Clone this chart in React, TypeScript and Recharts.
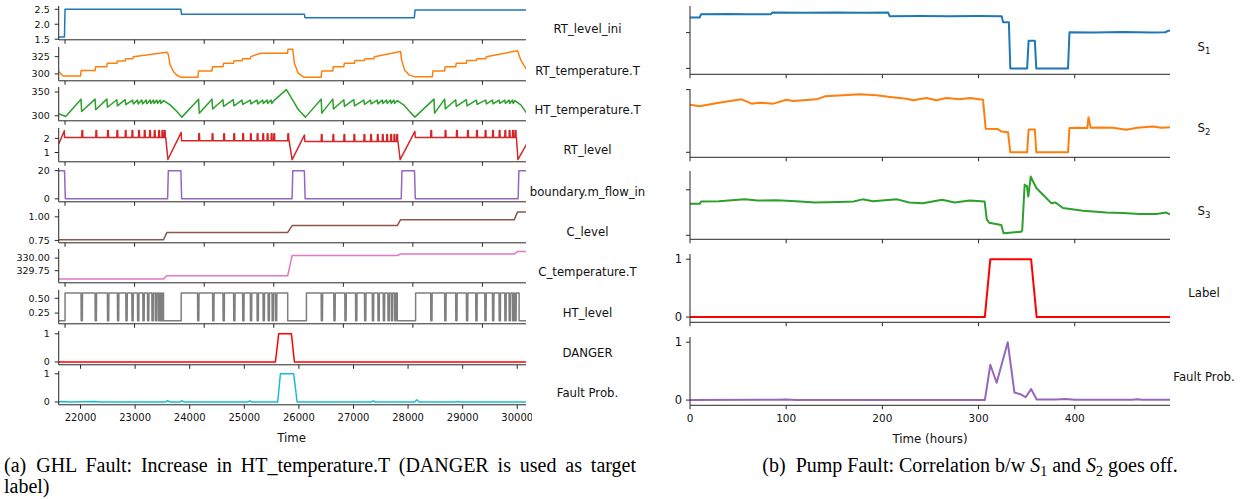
import React from 'react';
import { LineChart, Line, XAxis, YAxis } from 'recharts';

type Pt = [number, number];

// ================= Left figure: GHL =================
const GHL_TIME_DOMAIN: [number, number] = [21600, 30160];
const GHL_TIME_TICKS = [22000, 23000, 24000, 25000, 26000, 27000, 28000, 29000, 30000];
const GHL_UPPER_TICKS = [21716, 22990, 24265, 25540, 26814, 28088, 29362];

const RT_LEVEL_INI: Pt[] = [
  [21600, 1.57], [21705, 1.57], [21716, 2.5], [23838, 2.5], [23850, 2.33], [26100, 2.33], [26112, 2.22],
  [28115, 2.22], [28128, 2.48], [30160, 2.48],
];

const RT_TEMPERATURE: Pt[] = [
  [21600, 303.5], [21680, 297], [22000, 297], [22010, 304.8], [22265, 304.8], [22275, 310.5], [22480, 310.5],
  [22490, 315.5], [22665, 315.5], [22675, 318.8], [22815, 318.8], [22825, 322], [22958, 322], [22968, 325],
  [23580, 331.3], [23605, 329], [23640, 313], [23700, 303.5], [23765, 298], [23830, 295.2], [24150, 295.2],
  [24160, 304.3], [24408, 304.3], [24418, 310.5], [24610, 310.5], [24620, 315.5], [24800, 315.5], [24810, 319],
  [24958, 319], [24968, 322], [25110, 322], [25120, 325], [25294, 329.9], [25790, 329.9], [25800, 335.7],
  [25887, 335.7], [25918, 315.5], [25986, 301], [26088, 295.2], [26408, 295.2], [26418, 304.3], [26621, 304.3],
  [26631, 310.5], [26823, 310.5], [26833, 315.5], [27019, 315.5], [27029, 319.5], [27202, 319.5], [27212, 322],
  [27373, 322], [27383, 325], [27863, 332.6], [27881, 320], [27936, 305.8], [28015, 298.6], [28107, 296],
  [28445, 296], [28455, 304.3], [28670, 304.3], [28680, 310.5], [28872, 310.5], [28882, 315.5], [29068, 315.5],
  [29078, 319.5], [29252, 319.5], [29262, 322], [29423, 322], [29433, 325], [30004, 333.5], [30065, 320],
  [30175, 305.8],
];

const HT_TEMPERATURE: Pt[] = [
  [21600, 304.2], [21728, 298.6], [22009, 335], [22020, 309], [22266, 335], [22278, 312.7], [22481, 335],
  [22493, 318], [22664, 333.8], [22676, 321], [22817, 333.8], [22829, 323.5], [22954, 333], [22966, 325],
  [23043, 333], [23055, 325], [23123, 333], [23135, 325], [23202, 333], [23214, 325.5], [23275, 333],
  [23287, 326], [23336, 333], [23348, 326], [23398, 333], [23410, 326], [23459, 333], [23471, 326],
  [23520, 332], [23642, 323], [23765, 309], [23857, 297.2],
  [24162, 335], [24174, 305.6], [24408, 335], [24420, 314.4], [24609, 333.8], [24621, 319.6], [24798, 333.8],
  [24810, 321], [24958, 333], [24970, 324], [25110, 333], [25122, 325], [25233, 333], [25245, 325],
  [25336, 333], [25348, 326], [25417, 333], [25429, 326], [25490, 333], [25502, 326], [25551, 333],
  [25771, 354.9], [25881, 333.8], [25991, 312.7], [26120, 297.2],
  [26408, 335], [26420, 305.6], [26621, 335], [26633, 314.4], [26823, 333.8], [26835, 319.6], [27006, 333.8],
  [27018, 321], [27190, 333], [27202, 324], [27312, 333], [27324, 325], [27435, 333], [27447, 325],
  [27527, 333], [27539, 326], [27606, 333], [27618, 326], [27679, 333], [27691, 326], [27740, 333],
  [27752, 326], [27802, 332], [27918, 323], [28028, 309], [28125, 297.2],
  [28474, 335], [28486, 305.6], [28670, 335], [28682, 314.4], [28872, 333.8], [28884, 319.6], [29068, 333.8],
  [29080, 321], [29252, 333], [29264, 324], [29423, 333], [29435, 325], [29546, 333], [29558, 325],
  [29667, 333], [29679, 326], [29771, 333], [29783, 326], [29850, 333], [29862, 326], [29913, 333],
  [29925, 326], [29955, 332], [30065, 323], [30175, 305],
];

const RT_LEVEL_ANCHORS: Pt[] = [
  [21600, 1.6], [21703, 2.55], [21708, 2.07], [23560, 2.07], [23600, 0.5], [23844, 2.43], [23850, 1.84],
  [25820, 1.84], [25876, 0.5], [26101, 2.24], [26110, 1.78], [27815, 1.78], [27855, 0.5], [28125, 2.5],
  [28132, 2.07], [29985, 2.07], [30012, 0.5], [30175, 1.62],
];
const RT_LEVEL_SPIKES = [
  22022, 22279, 22492, 22664, 22817, 22940, 23061, 23166, 23263, 23349, 23428, 23490, 23533,
  24162, 24408, 24620, 24804, 24969, 25110, 25233, 25336, 25417, 25490, 25538, 25795,
  26408, 26621, 26823, 27006, 27190, 27312, 27435, 27527, 27606, 27679, 27740, 27790,
  28414, 28676, 28885, 29087, 29252, 29410, 29546, 29667, 29771, 29850, 29913, 29960,
];
const RT_LEVEL_SPIKE_RISE = 0.5;

const BOUNDARY_FLOW: Pt[] = [
  [21600, 20], [21706, 20], [21722, 0], [23595, 0], [23608, 20], [23838, 20], [23852, 0], [25875, 0],
  [25888, 20], [26100, 20], [26114, 0], [27875, 0], [27888, 20], [28118, 20], [28132, 0], [30016, 0],
  [30030, 20], [30160, 20],
];

const C_LEVEL: Pt[] = [
  [21600, 0.757], [23520, 0.757], [23582, 0.835], [25795, 0.835], [25876, 0.907], [27802, 0.907],
  [27863, 0.97], [29945, 0.97], [30004, 1.05], [30160, 1.05],
];

const C_TEMPERATURE: Pt[] = [
  [21600, 329.587], [23520, 329.587], [23582, 329.65], [25795, 329.65], [25876, 330.05], [27802, 330.05],
  [27863, 330.08], [29945, 330.08], [30004, 330.13], [30160, 330.13],
];

const HT_LEVEL_ANCHORS: Pt[] = [
  [21600, 0.12], [21716, 0.12], [21716, 0.59], [23520, 0.59], [23520, 0.12], [23844, 0.12], [23844, 0.59],
  [25795, 0.59], [25795, 0.12], [26138, 0.12], [26138, 0.59], [27802, 0.59], [27802, 0.12], [28138, 0.12],
  [28138, 0.59], [30034, 0.59], [30034, 0.12], [30160, 0.12],
];
const HT_LEVEL_PULSES = [
  22009, 22266, 22492, 22675, 22829, 22940, 23043, 23141, 23226, 23306, 23367, 23422, 23460, 23488,
  24143, 24419, 24609, 24804, 24969, 25110, 25233, 25343, 25435, 25508, 25569,
  26408, 26639, 26841, 27037, 27202, 27344, 27447, 27545, 27630, 27692, 27753,
  28414, 28670, 28872, 29068, 29239, 29405, 29546, 29667, 29771, 29850, 29913, 29955,
];
const HT_LEVEL_LOW = 0.12;

const DANGER: Pt[] = [[21600, 0], [25570, 0], [25630, 1], [25863, 1], [25918, 0], [30160, 0]];

const GHL_FAULT_PROB: Pt[] = [
  [21600, 0.01], [21700, 0.02], [21800, 0], [22250, 0.015], [22350, 0], [23560, 0], [23593, 0.05],
  [23630, 0], [23830, 0], [23857, 0.05], [23890, 0], [25070, 0], [25098, 0.04], [25130, 0], [25612, 0],
  [25661, 1], [25905, 1], [25967, 0], [27330, 0], [27362, 0.04], [27395, 0], [28120, 0], [28157, 0.08],
  [28200, 0], [28880, 0], [28915, 0.02], [28950, 0], [30160, 0],
];

// ================= Right figure: Pump =================
const PUMP_TIME_DOMAIN: [number, number] = [0, 499];
const PUMP_TIME_TICKS = [0, 100, 200, 300, 400];

const S1: Pt[] = [
  [0, 1.42], [10, 1.42], [11.5, 1.515], [40, 1.52], [60, 1.51], [84, 1.515], [85.5, 1.56], [120, 1.555],
  [150, 1.565], [180, 1.555], [206, 1.56], [207.5, 1.46], [240, 1.465], [270, 1.455], [300, 1.465],
  [324, 1.46], [325.5, 1.29], [331.5, 1.29], [333, 0], [350.5, 0], [352, 0.77], [358.5, 0.77], [360, 0],
  [393, 0], [394.5, 1.01], [420, 1.005], [450, 1.015], [480, 1.005], [494, 1.01], [497, 1.05], [499, 1.05],
];

const S2: Pt[] = [
  [0, 0.76], [10, 0.733], [30, 0.79], [53.6, 0.845], [64, 0.776], [72.7, 0.792], [86.5, 0.776],
  [100.4, 0.839], [107.3, 0.818], [131.5, 0.845], [140.2, 0.893], [159.2, 0.909], [176.5, 0.925],
  [193.9, 0.909], [210, 0.88], [225, 0.855], [232, 0.829], [245.8, 0.866], [256.2, 0.829], [266.6, 0.866],
  [280.4, 0.845], [291, 0.866], [304.6, 0.839], [307.4, 0.375], [320, 0.37], [324, 0.33], [330.6, 0.321],
  [333, 0], [350.5, 0], [352, 0.364], [358.5, 0.364], [360, 0], [393, 0], [394.5, 0.386], [405, 0.39],
  [413, 0.386], [414.3, 0.56], [416.5, 0.39], [425, 0.395], [439.6, 0.39], [453.5, 0.36], [465, 0.39],
  [481, 0.41], [490, 0.39], [499, 0.4],
];

const S3: Pt[] = [
  [0, 0.691], [10, 0.691], [11.5, 0.742], [30, 0.75], [57, 0.79], [70, 0.764], [90, 0.77], [110, 0.75],
  [130, 0.72], [155, 0.73], [170, 0.742], [179.3, 0.79], [190, 0.75], [215.3, 0.79], [228, 0.72],
  [242, 0.706], [252, 0.742], [262.3, 0.78], [275, 0.72], [290.8, 0.764], [306.3, 0.742], [308.5, 0.35],
  [311, 0.278], [323.6, 0.226], [326, 0.044], [335, 0.06], [344.4, 0.08], [345.4, 0.118], [347.9, 1.11],
  [350.3, 1.08], [351.7, 0.85], [354.2, 1.29], [360, 1.04], [367, 0.89], [375.6, 0.706], [380, 0.72],
  [387.7, 0.6], [408.5, 0.54], [432.7, 0.5], [450, 0.49], [467.3, 0.47], [485, 0.47], [495, 0.5], [499, 0.46],
];

const PUMP_LABEL: Pt[] = [[0, 0], [306.5, 0], [312.2, 1], [354.6, 1], [360.4, 0], [499, 0]];

const PUMP_FAULT_PROB: Pt[] = [
  [0, 0], [90, 0.005], [100, 0.01], [110, 0], [306.5, 0], [312.2, 0.61], [318.8, 0.3], [330.3, 1.0],
  [337.3, 0.13], [343.7, 0.1], [348.9, 0.05], [354.6, 0.19], [360.4, 0.01], [380, 0.01], [390, 0.02],
  [400, 0.005], [460, 0.005], [465, 0.015], [470, 0.005], [499, 0.005],
];

// ================= helpers =================
const valueAt = (anchors: Pt[], t: number) => {
  let v = anchors[0][1];
  for (const [at, av] of anchors) if (at <= t) v = av;
  return v;
};

function mergeEvents(anchors: Pt[], extra: { k: number; pts: Pt[] }[]): Pt[] {
  const events = anchors.map((p) => ({ k: p[0], pts: [p] as Pt[] })).concat(extra);
  events.sort((a, b) => a.k - b.k);
  return events.flatMap((e) => e.pts);
}

const RT_LEVEL: Pt[] = mergeEvents(
  RT_LEVEL_ANCHORS,
  RT_LEVEL_SPIKES.map((s) => {
    const b = valueAt(RT_LEVEL_ANCHORS, s);
    return { k: s, pts: [[s, b], [s + 4, b + RT_LEVEL_SPIKE_RISE], [s + 16, b + RT_LEVEL_SPIKE_RISE], [s + 20, b]] as Pt[] };
  })
);

const HT_LEVEL: Pt[] = mergeEvents(
  HT_LEVEL_ANCHORS,
  HT_LEVEL_PULSES.map((s) => {
    const b = valueAt(HT_LEVEL_ANCHORS, s);
    return { k: s, pts: [[s, b], [s + 3, HT_LEVEL_LOW], [s + 24, HT_LEVEL_LOW], [s + 27, b]] as Pt[] };
  })
);

const rows = (pts: Pt[]) => pts.map(([t, v]) => ({ t, v }));

const FRAME = '#262626';
const PAD = 6;

type PanelProps = {
  chartLeft: number;
  plotLeft: number;
  plotRight: number;
  top: number;
  height: number;
  data: Pt[];
  color: string;
  strokeWidth: number;
  xDomain: [number, number];
  xTicks: number[];
  xLabels?: boolean;
  yDomain: [number, number];
  yTicks: number[];
  yFmt?: (v: number) => string;
  yFontSize: number;
  xFontSize: number;
  yTickMargin: number;
};

function Panel(p: PanelProps) {
  const bottom = p.xLabels ? 24 : PAD;
  const width = p.plotRight - p.chartLeft + PAD;
  return (
    <div style={{ position: 'absolute', left: p.chartLeft, top: p.top - PAD }}>
      <LineChart
        width={width}
        height={p.height + PAD + bottom}
        data={rows(p.data)}
        margin={{ top: PAD, right: PAD, bottom: 0, left: 0 }}
      >
        <XAxis
          dataKey="t"
          type="number"
          domain={p.xDomain}
          allowDataOverflow
          ticks={p.xTicks}
          interval={0}
          height={bottom}
          tickSize={4}
          tickMargin={5}
          tick={{ fontSize: p.xFontSize, fill: '#111', fontFamily: 'DejaVu Sans' }}
          tickLine={{ stroke: FRAME }}
          axisLine={{ stroke: FRAME }}
          tickFormatter={p.xLabels ? (v: number) => String(v) : () => ''}
        />
        <XAxis
          xAxisId="top"
          orientation="top"
          dataKey="t"
          type="number"
          domain={p.xDomain}
          allowDataOverflow
          height={0}
          tick={false}
          tickLine={false}
          axisLine={{ stroke: FRAME }}
        />
        <YAxis
          type="number"
          domain={p.yDomain}
          allowDataOverflow
          ticks={p.yTicks}
          interval={0}
          width={p.plotLeft - p.chartLeft}
          tickSize={4}
          tickMargin={p.yTickMargin}
          tick={{ fontSize: p.yFontSize, fill: '#111', fontFamily: 'DejaVu Sans' }}
          tickLine={{ stroke: FRAME }}
          axisLine={{ stroke: FRAME }}
          tickFormatter={p.yFmt ? p.yFmt : () => ''}
        />
        <YAxis
          yAxisId="right"
          orientation="right"
          type="number"
          domain={p.yDomain}
          allowDataOverflow
          width={0}
          tick={false}
          tickLine={false}
          axisLine={{ stroke: FRAME }}
        />
        <Line
          dataKey="v"
          type="linear"
          stroke={p.color}
          strokeWidth={p.strokeWidth}
          dot={false}
          strokeLinejoin="round"
          isAnimationActive={false}
        />
      </LineChart>
    </div>
  );
}

const f0 = (v: number) => v.toFixed(0);
const f1 = (v: number) => v.toFixed(1);
const f2 = (v: number) => v.toFixed(2);

type Spec = {
  name: string;
  data: Pt[];
  color: string;
  yDomain: [number, number];
  yTicks: number[];
  yFmt?: (v: number) => string;
};

const GHL_SPECS: Spec[] = [
  { name: 'RT_level_ini', data: RT_LEVEL_INI, color: '#1f77b4', yDomain: [1.48, 2.61], yTicks: [1.5, 2.0, 2.5], yFmt: f1 },
  { name: 'RT_temperature.T', data: RT_TEMPERATURE, color: '#ff7f0e', yDomain: [290, 339], yTicks: [300, 325], yFmt: f0 },
  { name: 'HT_temperature.T', data: HT_TEMPERATURE, color: '#2ca02c', yDomain: [289.5, 360.5], yTicks: [300, 350], yFmt: f0 },
  { name: 'RT_level', data: RT_LEVEL, color: '#d62728', yDomain: [0.34, 2.74], yTicks: [1, 2], yFmt: f0 },
  { name: 'boundary.m_flow_in', data: BOUNDARY_FLOW, color: '#9467bd', yDomain: [-2.1, 21.9], yTicks: [0, 20], yFmt: f0 },
  { name: 'C_level', data: C_LEVEL, color: '#8c564b', yDomain: [0.725, 1.083], yTicks: [0.75, 1.0], yFmt: f2 },
  { name: 'C_temperature.T', data: C_TEMPERATURE, color: '#e377c2', yDomain: [329.51, 330.18], yTicks: [329.75, 330.0], yFmt: f2 },
  { name: 'HT_level', data: HT_LEVEL, color: '#7f7f7f', yDomain: [0.07, 0.64], yTicks: [0.25, 0.5], yFmt: f2 },
  { name: 'DANGER', data: DANGER, color: '#ff0000', yDomain: [-0.1, 1.1], yTicks: [0, 1], yFmt: f0 },
  { name: 'Fault Prob.', data: GHL_FAULT_PROB, color: '#17becf', yDomain: [-0.1, 1.1], yTicks: [0, 1], yFmt: f0 },
];
const GHL_TOPS = [6, 46.7, 87.3, 127.6, 168.3, 209, 249.4, 290, 331, 371];
const GHL_LABEL_Y = [29.3, 70.7, 110, 150, 192.3, 231.7, 271.7, 312.7, 353.3, 393.3];

const PUMP_SPECS: Spec[] = [
  { name: 'S1', data: S1, color: '#1f77b4', yDomain: [-0.165, 1.744], yTicks: [0, 1] },
  { name: 'S2', data: S2, color: '#ff7f0e', yDomain: [-0.08, 1.01], yTicks: [0, 1] },
  { name: 'S3', data: S3, color: '#2ca02c', yDomain: [-0.088, 1.413], yTicks: [0, 1] },
  { name: 'Label', data: PUMP_LABEL, color: '#ff0000', yDomain: [-0.09, 1.09], yTicks: [0, 1], yFmt: f0 },
  { name: 'Fault Prob.', data: PUMP_FAULT_PROB, color: '#9467bd', yDomain: [-0.09, 1.09], yTicks: [0, 1], yFmt: f0 },
];
const PUMP_TOPS = [5.7, 88.5, 171.2, 254, 336.7];
const PUMP_LABEL_Y = [46.7, 128.3, 211, 293, 376.7];

const LABEL_FONT: React.CSSProperties = {
  position: 'absolute',
  fontFamily: 'DejaVu Sans',
  fontSize: 11.7,
  color: '#111',
  textAlign: 'center',
  whiteSpace: 'nowrap',
  width: 200,
  lineHeight: '14px',
};

function PumpName({ name }: { name: string }) {
  if (/^S\d$/.test(name)) {
    return (
      <span>
        S<span style={{ fontSize: 8.5, position: 'relative', top: 3 }}>{name[1]}</span>
      </span>
    );
  }
  return <span>{name}</span>;
}

export default function App() {
  return (
    <div
      style={{
        position: 'absolute',
        left: 0,
        top: 0,
        width: 1240,
        height: 499,
        background: '#fff',
        overflow: 'hidden',
      }}
    >
      {GHL_SPECS.map((s, i) => (
        <Panel
          key={'g' + i}
          chartLeft={0}
          plotLeft={58.7}
          plotRight={526}
          top={GHL_TOPS[i]}
          height={33.8}
          data={s.data}
          color={s.color}
          strokeWidth={1.5}
          xDomain={GHL_TIME_DOMAIN}
          xTicks={i >= 8 ? GHL_TIME_TICKS : GHL_UPPER_TICKS}
          xLabels={i === 9}
          yDomain={s.yDomain}
          yTicks={s.yTicks}
          yFmt={s.yFmt}
          yFontSize={9.5}
          xFontSize={10}
          yTickMargin={5}
        />
      ))}
      {GHL_SPECS.map((s, i) => (
        <div key={'gl' + i} style={{ ...LABEL_FONT, left: 487.5, top: GHL_LABEL_Y[i] - 7 }}>
          {s.name}
        </div>
      ))}
      <div style={{ ...LABEL_FONT, left: 191.7, top: 438.3 - 7, fontSize: 11.8 }}>Time</div>

      {PUMP_SPECS.map((s, i) => (
        <Panel
          key={'p' + i}
          chartLeft={640}
          plotLeft={690}
          plotRight={1170}
          top={PUMP_TOPS[i]}
          height={68.3}
          data={s.data}
          color={s.color}
          strokeWidth={2}
          xDomain={PUMP_TIME_DOMAIN}
          xTicks={PUMP_TIME_TICKS}
          xLabels={i === 4}
          yDomain={s.yDomain}
          yTicks={s.yTicks}
          yFmt={s.yFmt}
          yFontSize={11.5}
          xFontSize={10.5}
          yTickMargin={4}
        />
      ))}
      {PUMP_SPECS.map((s, i) => (
        <div key={'pl' + i} style={{ ...LABEL_FONT, left: 1104, top: PUMP_LABEL_Y[i] - 7 }}>
          <PumpName name={s.name} />
        </div>
      ))}
      <div style={{ ...LABEL_FONT, left: 830, top: 439 - 7, fontSize: 11.8 }}>Time (hours)</div>

      <div
        style={{
          position: 'absolute',
          left: 4,
          top: 455,
          width: 632,
          fontFamily: '"Liberation Serif", serif',
          fontSize: 20,
          lineHeight: '21px',
          textAlign: 'justify',
          color: '#000',
        }}
      >
        (a)&ensp;GHL Fault: Increase in HT_temperature.T (DANGER is used as target label)
      </div>
      <div
        style={{
          position: 'absolute',
          left: 700,
          top: 455,
          width: 540,
          fontFamily: '"Liberation Serif", serif',
          fontSize: 20,
          lineHeight: '21px',
          textAlign: 'center',
          color: '#000',
          whiteSpace: 'nowrap',
        }}
      >
        (b)&ensp;Pump Fault: Correlation b/w <i>S</i>
        <span style={{ fontSize: 14, position: 'relative', top: 4 }}>1</span> and <i>S</i>
        <span style={{ fontSize: 14, position: 'relative', top: 4 }}>2</span> goes off.
      </div>
    </div>
  );
}
